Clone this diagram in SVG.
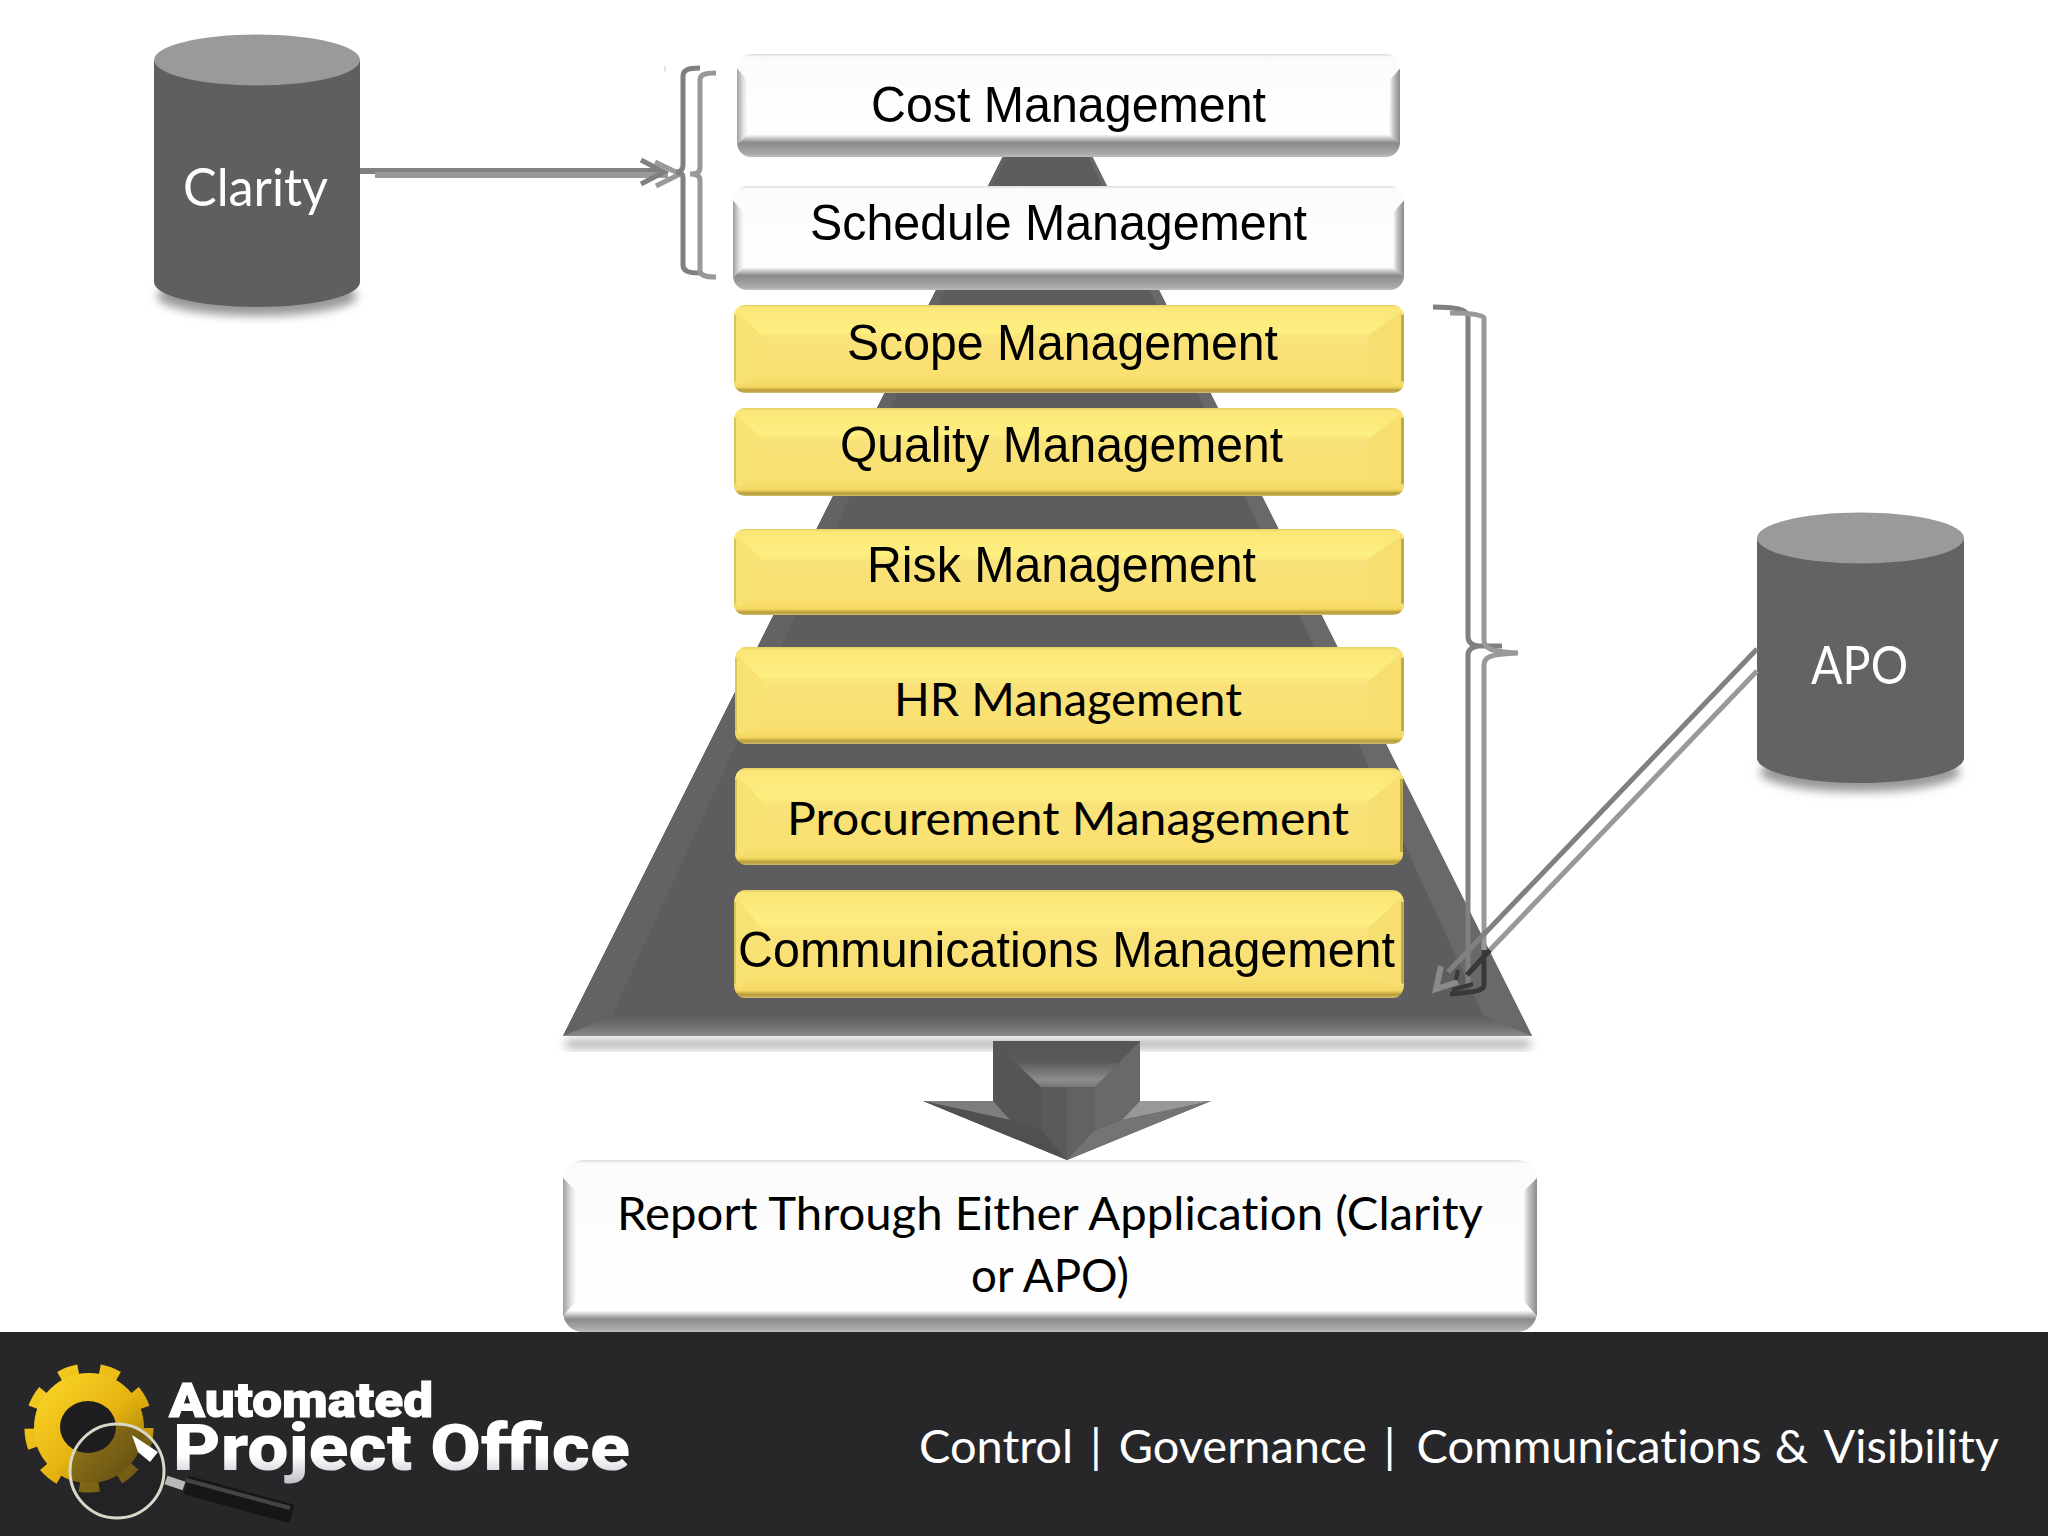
<svg xmlns="http://www.w3.org/2000/svg" width="2048" height="1536" viewBox="0 0 2048 1536">
<style>
.ar{font-family:"Liberation Sans",Arial,sans-serif;font-size:50px;fill:#000}
.ca{font-family:Lato,"Liberation Sans",sans-serif;font-size:47px;fill:#000;font-variant-ligatures:none}
.wh{font-family:Lato,"Liberation Sans",sans-serif;fill:#fff;font-variant-ligatures:none}
.line1{fill:none;stroke:#808080;stroke-width:5}
.line2{fill:none;stroke:#999;stroke-width:5}
.dark{fill:none;stroke:#38383a;stroke-width:5}
.mid{fill:none;stroke:#8a8a8a;stroke-width:6}
</style>
<defs>
<filter id="blur" x="-20%" y="-50%" width="140%" height="200%"><feGaussianBlur stdDeviation="5"/></filter>
<linearGradient id="yv" x1="0" y1="0" x2="0" y2="1">
<stop offset="0" stop-color="#e6cf62"/><stop offset=".03" stop-color="#fae678"/><stop offset=".3" stop-color="#fdef80"/><stop offset=".38" stop-color="#f9e27a"/><stop offset=".82" stop-color="#f9e070"/><stop offset=".93" stop-color="#f4d862"/><stop offset=".97" stop-color="#b89b38"/><stop offset="1" stop-color="#d0be70"/>
</linearGradient>
<linearGradient id="wv" x1="0" y1="0" x2="0" y2="1">
<stop offset="0" stop-color="#dcdcdc"/><stop offset=".03" stop-color="#fbfbfb"/><stop offset=".78" stop-color="#fff"/><stop offset=".86" stop-color="#8a8a8a"/><stop offset=".97" stop-color="#aaa"/><stop offset="1" stop-color="#bdbdbd"/>
</linearGradient>
<linearGradient id="wv2" x1="0" y1="0" x2="0" y2="1">
<stop offset="0" stop-color="#dcdcdc"/><stop offset=".02" stop-color="#fbfbfb"/><stop offset=".875" stop-color="#fff"/><stop offset=".925" stop-color="#8a8a8a"/><stop offset=".98" stop-color="#aaa"/><stop offset="1" stop-color="#bdbdbd"/>
</linearGradient>
<linearGradient id="wl" x1="0" y1="0" x2="1" y2="0"><stop offset="0" stop-color="#a0a0a0"/><stop offset=".6" stop-color="#e4e4e4"/><stop offset="1" stop-color="#fff"/></linearGradient>
<linearGradient id="wr" x1="1" y1="0" x2="0" y2="0"><stop offset="0" stop-color="#8a8a8a"/><stop offset=".6" stop-color="#c4c4c4"/><stop offset="1" stop-color="#fff"/></linearGradient>
<linearGradient id="gold" x1="0" y1="0" x2="1" y2="1"><stop offset="0" stop-color="#f6cf24"/><stop offset=".55" stop-color="#e6b410"/><stop offset="1" stop-color="#a88208"/></linearGradient>
<linearGradient id="po" x1="0" y1="0" x2="0" y2="1"><stop offset="0" stop-color="#fff"/><stop offset=".6" stop-color="#fff"/><stop offset="1" stop-color="#b9b9c2"/></linearGradient>
<linearGradient id="band" x1="0" y1="0" x2="0" y2="1"><stop offset="0" stop-color="#5d5d5f"/><stop offset=".5" stop-color="#6d6d6f"/><stop offset="1" stop-color="#8a8a8a"/></linearGradient>
<linearGradient id="vup" x1="0" y1="0" x2="0" y2="1"><stop offset="0" stop-color="#555557"/><stop offset=".45" stop-color="#5a5a5c"/><stop offset=".85" stop-color="#8d8d8f"/><stop offset="1" stop-color="#767678"/></linearGradient>
<symbol id="ybox" viewBox="0 0 670 90" preserveAspectRatio="none">
<rect width="670" height="90" rx="11" fill="url(#yv)"/>
<polygon points="2,6 28,32 28,64 6,82 2,78" fill="#f8e274"/>
<polygon points="668,6 634,32 634,64 664,82 668,78" fill="#f6de70"/>
<rect x="0" y="10" width="2" height="68" fill="#dcc45a"/>
<rect x="667" y="10" width="3" height="68" fill="#c4ac45"/>
</symbol>
<symbol id="wbox" viewBox="0 0 670 100" preserveAspectRatio="none">
<rect width="670" height="100" rx="14" fill="url(#wv)"/>
<polygon points="0,14 11,26 11,78 0,88" fill="url(#wl)"/>
<polygon points="670,14 659,26 659,78 670,88" fill="url(#wr)"/>
</symbol>
</defs>
<rect width="2048" height="1536" fill="#fff"/>

<g id="pyramid">
<polygon points="566,1040 1530,1040 1530,1048 566,1048" fill="#aaa" filter="url(#blur)"/>
<polygon points="1047.500,67 1532,1036 563,1036" fill="#5d5d5f"/>
<polygon points="563,1036 1047.500,67 612,1015" fill="#636365"/>
<polygon points="1532,1036 1047.500,67 1483,1015" fill="#69696b"/>
<polygon points="563,1036 1532,1036 1483,1015 612,1015" fill="url(#band)"/>
</g>

<g id="cost"><use href="#wbox" x="737" y="54" width="663" height="103"/><text class="ar" x="871" y="122" textLength="395" lengthAdjust="spacingAndGlyphs">Cost Management</text></g>
<g id="schedule"><use href="#wbox" x="733" y="186" width="671" height="104"/><text class="ar" x="810" y="240" textLength="497" lengthAdjust="spacingAndGlyphs">Schedule Management</text></g>
<g id="scope"><use href="#ybox" x="734" y="305" width="670" height="88"/><text class="ar" x="847" y="360" textLength="431" lengthAdjust="spacingAndGlyphs">Scope Management</text></g>
<g id="quality"><use href="#ybox" x="734" y="408" width="670" height="88"/><text class="ar" x="840" y="462" textLength="443" lengthAdjust="spacingAndGlyphs">Quality Management</text></g>
<g id="risk"><use href="#ybox" x="734" y="529" width="670" height="86"/><text class="ar" x="867" y="582" textLength="389" lengthAdjust="spacingAndGlyphs">Risk Management</text></g>
<g id="hr"><use href="#ybox" x="735" y="647" width="669" height="97"/><text class="ca" x="894" y="716" textLength="348" lengthAdjust="spacingAndGlyphs">HR Management</text></g>
<g id="procurement"><use href="#ybox" x="735" y="768" width="668" height="97"/><text class="ca" x="787" y="835" textLength="562" lengthAdjust="spacingAndGlyphs">Procurement Management</text></g>
<g id="communications"><use href="#ybox" x="734" y="890" width="670" height="108"/><text class="ar" x="738" y="967" textLength="657" lengthAdjust="spacingAndGlyphs">Communications Management</text></g>

<g id="down-arrow">
<polygon points="993,1041 1140,1041 1140,1101 1211,1101 1067,1160 923,1101 993,1101" fill="#5b5b5d"/>
<polygon points="993,1041 1041,1087 1041,1130 1010,1120 993,1101" fill="#555557"/>
<polygon points="1140,1041 1095,1087 1095,1130 1122,1120 1140,1101" fill="#69696b"/>
<polygon points="993,1041 1140,1041 1095,1087 1041,1087" fill="url(#vup)"/>
<polygon points="1041,1087 1067,1087 1067,1160 1041,1130" fill="#5a5a5c"/>
<polygon points="1067,1087 1095,1087 1095,1130 1067,1160" fill="#626264"/>
<polygon points="923,1101 993,1101 1010,1120" fill="#7d7d7f"/>
<polygon points="1211,1101 1140,1101 1122,1120" fill="#98989a"/>
<polygon points="1067,1160 1095,1130 1122,1120 1211,1101" fill="#747476"/>
<polygon points="1067,1160 1041,1130 1010,1120 923,1101" fill="#505052"/>
</g>

<g id="report">
<rect x="563" y="1160" width="974" height="172" rx="20" fill="url(#wv2)"/>
<polygon points="563,1178 577,1192 577,1300 563,1316" fill="url(#wl)"/>
<polygon points="1537,1178 1523,1192 1523,1300 1537,1316" fill="url(#wr)"/>
<text class="ca" x="617" y="1230" textLength="866" lengthAdjust="spacingAndGlyphs">Report Through Either Application (Clarity</text>
<text class="ca" x="971" y="1292" textLength="158" lengthAdjust="spacingAndGlyphs">or APO)</text>
</g>

<g id="clarity">
<ellipse cx="257" cy="296" rx="100" ry="20" fill="#999" filter="url(#blur)"/>
<path d="M154,60V282C154,296 200,307 257,307S360,296 360,282V60Z" fill="#5f5f5f"/>
<ellipse cx="257" cy="60" rx="103" ry="25.500" fill="#9a9a9a"/>
<text class="wh" x="183" y="206" font-size="52" textLength="145" lengthAdjust="spacingAndGlyphs">Clarity</text>
</g>

<g id="apo">
<ellipse cx="1860" cy="772" rx="100" ry="20" fill="#999" filter="url(#blur)"/>
<path d="M1757,538V758C1757,772 1803,783 1860,783S1964,772 1964,758V538Z" fill="#636265"/>
<ellipse cx="1860.500" cy="538" rx="103.500" ry="25.500" fill="#9a9a9c"/>
<text class="wh" x="1811" y="684" font-size="52" textLength="97" lengthAdjust="spacingAndGlyphs">APO</text>
</g>

<g id="connectors">
<path d="M665,66V72" stroke="#ccc" stroke-width="1" fill="none"/>
<path class="line1" d="M360,171H660" style="stroke-width:6"/>
<path class="line2" d="M375,175H668" style="stroke-width:6"/>
<path class="line1" d="M641,160L664,172L641,184"/>
<path class="line2" d="M655,162L680,174L656,186"/>
<path class="line1" d="M700,68C688,68 683,70 683,76V165C683,170 680,172 676,172C680,172 683,174 683,178V265C683,271 688,273 700,273"/>
<path class="line2" d="M716,73C704,73 700,75 700,80V168C700,172 696,174 690,174C696,174 700,176 700,180V270C700,275 704,277 716,277"/>
<path class="line1" d="M1433,307C1455,307 1468,309 1468,317V637C1468,643 1472,645 1478,646C1472,647 1468,649 1468,655V985"/>
<path class="line1" d="M1478,646H1502"/>
<path class="line2" d="M1450,313C1470,313 1484,315 1484,318V640C1484,648 1490,652 1518,653C1490,654 1484,657 1484,665V960"/>
<path class="dark" d="M1484,950V985C1484,990 1478,992 1450,994"/>
<path class="line1" d="M1757,649L1448,972"/>
<path class="line2" d="M1757,671L1490,950"/>
<path class="dark" d="M1490,950L1467,975"/>
<path class="mid" d="M1441,966L1436,989L1458,982"/>
<path class="dark" d="M1458,970L1456,980M1452,990L1473,984" style="stroke-width:4"/>
</g>

<g id="footer">
<rect y="1332" width="2048" height="204" fill="#272729"/>
<text class="wh" x="919" y="1463" font-size="47" word-spacing="5" textLength="1080" lengthAdjust="spacingAndGlyphs">Control | Governance | <tspan dx="4">Communications</tspan> <tspan dx="-4">&amp;</tspan> Visibility</text>
</g>

<g id="logo">
<circle cx="89" cy="1428" r="57" fill="none" stroke="url(#gold)" stroke-width="15" stroke-dasharray="19 20.800"/>
<circle cx="89" cy="1428" r="39" fill="none" stroke="url(#gold)" stroke-width="32"/>
<ellipse cx="88" cy="1427" rx="28" ry="26" fill="#1e1e20"/>
<ellipse cx="117" cy="1471" rx="47" ry="47" fill="#1f1f21" fill-opacity=".45"/>
<polygon points="132,1435 158,1452 150,1462 138,1452" fill="#fff"/>
<ellipse cx="117" cy="1471" rx="47" ry="47" fill="none" stroke="#d8d8c8" stroke-width="3"/>
<path d="M166,1480L184,1486" stroke="#b8b8b8" stroke-width="9" fill="none"/>
<path d="M186,1485L292,1514" stroke="#161618" stroke-width="19" fill="none"/>
<path d="M186,1480L290,1508" stroke="#444" stroke-width="4" fill="none"/>
<text x="169" y="1417" font-family="Roboto,'Liberation Sans',sans-serif" font-weight="900" font-size="48" fill="#fff" stroke="#fff" stroke-width="1" textLength="264" lengthAdjust="spacingAndGlyphs">Automated</text>
<text x="173" y="1470" font-family="Roboto,'Liberation Sans',sans-serif" font-weight="900" font-size="64" fill="url(#po)" textLength="457" lengthAdjust="spacingAndGlyphs">Project Office</text>
</g>
</svg>
